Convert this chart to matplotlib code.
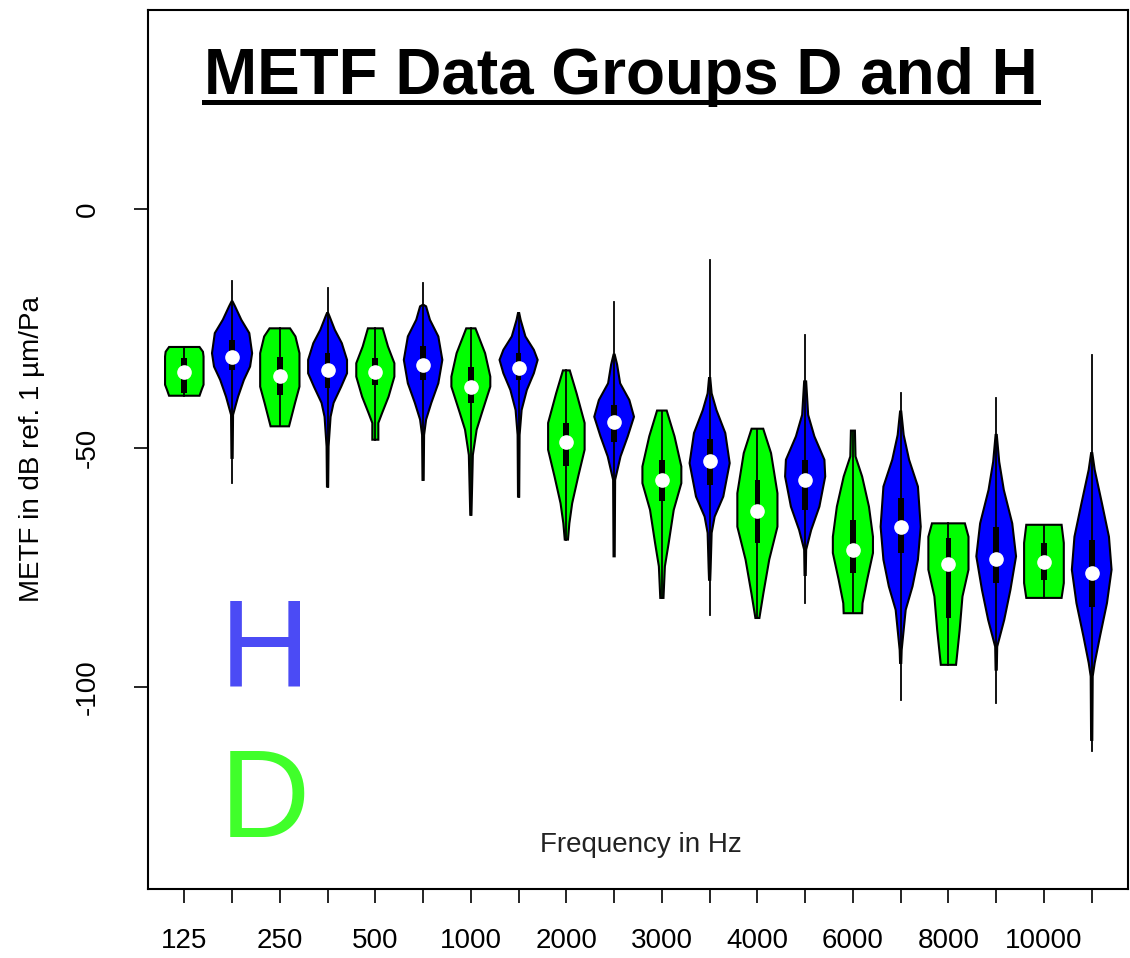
import matplotlib
matplotlib.use("Agg")
import matplotlib.pyplot as plt
from matplotlib import font_manager
from matplotlib.lines import Line2D

# violin outline points: value (dB) and relative half width
profile_vals = [
    [-28.9, -29.9, -30.9, -36.8, -37.9, -39.1],
    [-19.4, -20.4, -23.2, -26.0, -30.2, -33.0, -35.8, -39.3, -43.1, -52.1],
    [-25.0, -26.7, -30.2, -37.2, -40.6, -45.5],
    [-21.8, -22.5, -25.3, -28.1, -31.6, -34.4, -37.2, -40.6, -43.5, -49.7, -58.1],
    [-25.0, -28.8, -32.3, -35.1, -39.3, -42.7, -44.8, -48.3],
    [-20.1, -20.4, -23.2, -26.7, -31.6, -36.5, -40.6, -44.1, -47.3, -56.7],
    [-25.0, -30.2, -35.1, -37.2, -42.7, -46.2, -51.5, -64.0],
    [-21.8, -23.2, -26.7, -29.5, -31.6, -34.4, -37.9, -42.1, -47.3, -60.2],
    [-33.8, -38.6, -44.8, -50.4, -56.0, -61.6, -65.8, -69.2],
    [-30.5, -32.6, -36.5, -40.0, -43.5, -47.6, -51.8, -56.7, -72.7],
    [-42.2, -47.6, -53.9, -57.4, -63.0, -69.9, -74.8, -81.4],
    [-35.4, -38.6, -42.1, -46.9, -53.2, -60.2, -64.4, -67.8, -75.2, -77.6],
    [-46.0, -51.1, -59.5, -66.5, -73.4, -80.4, -85.6],
    [-36.1, -43.1, -47.6, -52.5, -56.0, -62.3, -67.2, -71.3, -76.6],
    [-46.4, -51.8, -56.0, -62.3, -68.6, -72.0, -77.6, -82.5, -84.6],
    [-42.4, -47.3, -52.5, -58.1, -66.5, -73.4, -79.0, -83.9, -92.3, -95.0],
    [-65.8, -68.6, -75.5, -81.1, -88.1, -95.4],
    [-47.3, -52.9, -58.8, -65.8, -72.7, -79.7, -86.0, -91.6, -96.4],
    [-66.1, -69.9, -78.3, -81.4],
    [-51.1, -54.6, -61.6, -68.6, -75.5, -82.5, -89.5, -95.0, -97.8, -111.1],
]
profile_widths = [
    [.76, .93, .96, .96, .86, .76],
    [.03, .15, .46, .86, 1.0, .90, .59, .30, .05, .03],
    [.51, .78, .98, .98, .76, .46],
    [.03, .10, .36, .71, .97, .97, .68, .30, .15, .05, .03],
    [.37, .63, .95, .95, .66, .34, .15, .15],
    [.03, .15, .34, .76, .96, .76, .41, .15, .05, .03],
    [.23, .71, .97, .97, .55, .29, .10, .03],
    [.03, .10, .34, .76, .95, .76, .41, .15, .05, .03],
    [.17, .51, .91, .91, .59, .29, .15, .08],
    [.03, .15, .30, .76, .99, .68, .32, .05, .03],
    [.24, .63, .97, .97, .59, .34, .15, .08],
    [.03, .10, .34, .78, 1.0, .68, .25, .10, .05, .03],
    [.29, .68, 1.0, 1.0, .59, .30, .10],
    [.05, .15, .46, .96, 1.0, .71, .30, .05, .03],
    [.10, .13, .46, .80, 1.0, 1.0, .71, .48, .46],
    [.03, .15, .42, .86, 1.0, .86, .59, .25, .05, .03],
    [.82, 1.0, 1.0, .70, .56, .38],
    [.03, .15, .38, .80, .99, .71, .40, .05, .03],
    [.88, .99, .99, .88],
    [.03, .15, .51, .86, .99, .76, .41, .15, .05, .03],
]

whisk_hi = [-28.9, -15.2, -25.0, -16.6, -25.0, -15.6, -25.0, -21.8, -33.8, -19.4,
            -42.2, -10.7, -46.0, -26.4, -46.4, -38.6, -65.8, -39.6, -66.1, -30.5]
whisk_lo = [-39.1, -57.3, -45.5, -58.1, -48.3, -56.7, -64.0, -60.2, -69.2, -72.7,
            -81.4, -84.9, -85.6, -82.5, -84.6, -102.7, -95.4, -103.4, -81.4, -113.5]
q3 = [-31.2, -27.4, -30.9, -30.1, -31.2, -28.8, -33.0, -30.1, -44.8, -41.0,
      -52.5, -48.1, -56.7, -52.5, -65.1, -60.5, -68.9, -66.5, -69.9, -69.2]
q1 = [-38.5, -33.7, -38.9, -37.5, -36.8, -35.8, -40.6, -35.8, -53.9, -48.7,
      -61.2, -57.7, -69.9, -63.0, -76.2, -72.0, -85.6, -78.3, -77.6, -83.2]
medians = [-34.2, -31.1, -34.9, -33.8, -34.2, -32.6, -37.2, -33.4, -48.7, -44.5,
           -56.7, -52.7, -63.2, -56.8, -71.3, -66.5, -74.3, -73.2, -73.9, -76.2]

tick_labels = ["125", "", "250", "", "500", "", "1000", "", "2000", "",
               "3000", "", "4000", "", "6000", "", "8000", "", "10000", ""]
groups = ["D", "H"] * 10
group_colors = {"D": "#00ff00", "H": "#0000ff"}

names = {f.name for f in font_manager.fontManager.ttflist}
if "Liberation Sans Narrow" in names:
    narrow, small, big = "Liberation Sans Narrow", 24, 56
else:
    narrow, small, big = "Liberation Sans", 20, 46

fig = plt.figure(figsize=(11.3, 9.58), dpi=100)
ax = fig.add_axes([148 / 1130, 69 / 958, 980 / 1130, 879 / 958])

wex = 0.42
positions = list(range(1, len(medians) + 1))
for i, pos in enumerate(positions):
    vals = profile_vals[i]
    w = [wex * r for r in profile_widths[i]]
    xs = [pos - a for a in w] + [pos + a for a in w[::-1]]
    ys = vals + vals[::-1]
    ax.fill(xs, ys, facecolor=group_colors[groups[i]], edgecolor="black",
            linewidth=1.5, zorder=2)
    ax.plot([pos, pos], [whisk_lo[i], whisk_hi[i]], color="black", lw=1.3, zorder=3)

ax.bar(positions, [a - b for a, b in zip(q3, q1)], bottom=q1, width=0.12,
       color="black", zorder=4)
ax.plot(positions, medians, "o", color="white", markersize=9.5, zorder=5)

ax.set_xlim(0.24, 20.76)
ax.set_ylim(-142.3, 41.6)
ax.set_xticks(positions)
ax.set_xticklabels(tick_labels, fontfamily=narrow, fontsize=small)
ax.set_yticks([0, -50, -100])
ax.set_yticklabels(["0", "-50", "-100"], rotation=90, va="center",
                   fontfamily=narrow, fontsize=small)
ax.tick_params(axis="x", length=10, width=1.2, pad=18)
ax.tick_params(axis="y", length=10, width=1.2, pad=24)
for s in ax.spines.values():
    s.set_linewidth(1.5)

ax.text(-0.118, 0.5, "METF in dB ref. 1 µm/Pa", transform=ax.transAxes,
        rotation=90, ha="center", va="center", fontfamily=narrow, fontsize=small)
ax.text(10.56, -133, "Frequency in Hz", ha="center", va="center",
        fontfamily=narrow, fontsize=small, color="#222222")

ax.text(1.75, -100, "H", fontsize=90, color="#4b4bf5", ha="left", va="baseline",
        fontfamily="Liberation Sans")
ax.text(1.75, -131.4, "D", fontsize=90, color="#40ff2a", ha="left", va="baseline",
        fontfamily="Liberation Sans")

title = ax.text(0.483, 0.904, "METF Data Groups D and H", transform=ax.transAxes,
                ha="center", va="baseline", fontsize=big, fontweight="bold",
                fontfamily=narrow)

# underline the title
fig.canvas.draw()
bb = title.get_window_extent(fig.canvas.get_renderer())
inv = fig.transFigure.inverted()
(x0, y0), (x1, _) = inv.transform([(bb.x0, 958 - 102), (bb.x1, 958 - 102)])
fig.add_artist(Line2D([x0, x1], [y0, y0], transform=fig.transFigure,
                      color="black", lw=3.6))

fig.savefig("out.png", dpi=100)
